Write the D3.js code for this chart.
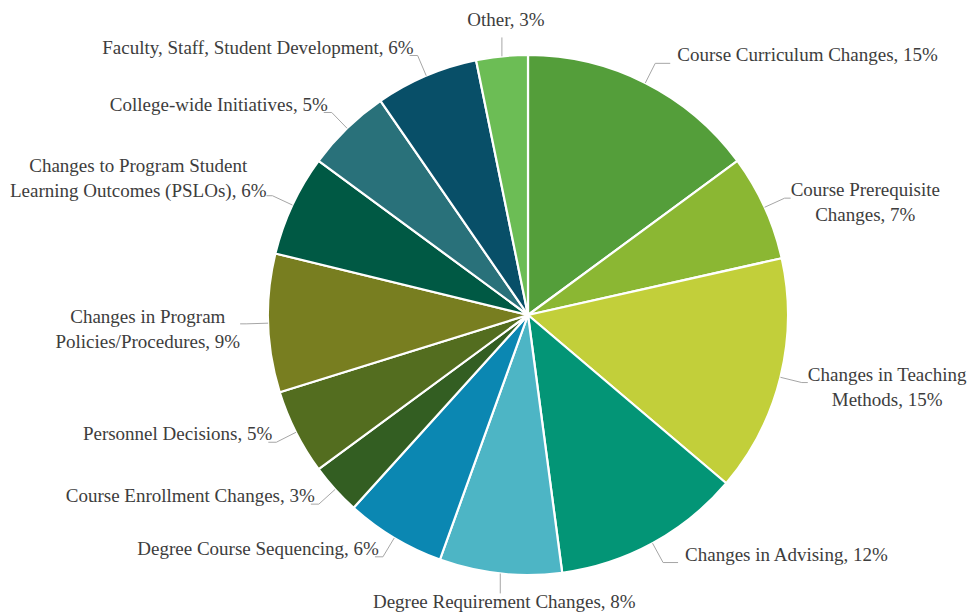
<!DOCTYPE html>
<html>
<head>
<meta charset="utf-8">
<script src="https://cdn.jsdelivr.net/npm/d3@7"></script>
<style>
  body { margin: 0; background: #fff; }
  text { font-family: "Liberation Serif", "DejaVu Serif", serif; }
</style>
</head>
<body>
<div id="chart"></div>
<script>
// categories, clockwise from 12 o'clock ("\n" marks the label line break)
const categories = [
    "Course Curriculum Changes",
    "Course Prerequisite\nChanges",
    "Changes in Teaching\nMethods",
    "Changes in Advising",
    "Degree Requirement Changes",
    "Degree Course Sequencing",
    "Course Enrollment Changes",
    "Personnel Decisions",
    "Changes in Program\nPolicies/Procedures",
    "Changes to Program Student\nLearning Outcomes (PSLOs)",
    "College-wide Initiatives",
    "Faculty, Staff, Student Development",
    "Other"
];
// share of responses, percent
const values = [14.9, 6.6, 14.7, 11.7, 7.6, 6.2, 3.2, 5.3, 8.6, 6.3, 5.3, 6.4, 3.2];
const colors = [
    "#549e3a", "#8bb733", "#c2cf3a", "#039576", "#4db5c5", "#0b87b2", "#335e22",
    "#536d1f", "#787e20", "#005944", "#29717a", "#084f68", "#6cbd55"
];

const width = 974, height = 614;
const cx = 528, cy = 315, radius = 260;
const lineHeight = 25;

const svg = d3.select("#chart")
    .append("svg")
    .attr("width", width)
    .attr("height", height);

const g = svg.append("g")
    .attr("transform", "translate(" + cx + "," + cy + ")");

const data = categories.map((c, i) => ({ name: c, value: values[i], color: colors[i] }));

const pie = d3.pie()
    .sort(null)
    .value(d => d.value);

const arc = d3.arc()
    .innerRadius(0)
    .outerRadius(radius);

const arcs = pie(data);

g.selectAll("path.slice")
    .data(arcs)
    .enter().append("path")
    .attr("class", "slice")
    .attr("d", arc)
    .attr("fill", d => d.data.color)
    .attr("stroke", "#fff")
    .attr("stroke-width", 2.2)
    .attr("stroke-linejoin", "round");

// labels with leader lines, placed outside the pie
const labels = g.append("g");

arcs.forEach(d => {
    const a = (d.startAngle + d.endAngle) / 2;
    const s = Math.sin(a), c = -Math.cos(a);
    const ex = radius * s, ey = radius * c;
    const px = (radius + 22) * s, py = (radius + 22) * c;
    const lines = (d.data.name + ", " + Math.round(d.data.value) + "%").split("\n");

    const text = labels.append("text")
        .attr("fill", "#3d3d3d")
        .attr("font-size", "19px");
    lines.forEach((l, i) => text.append("tspan").text(l));

    const widths = [];
    text.selectAll("tspan").each(function() { widths.push(this.getComputedTextLength()); });
    const w = d3.max(widths);

    let path;
    if (Math.abs(s) < 0.15) {
        // top / bottom: centred label, vertical leader
        const tx = ex + 4;
        const base = c < 0 ? py - 8 : py + 13;
        text.attr("text-anchor", "middle");
        text.selectAll("tspan").attr("x", tx).attr("y", (l, i) => base + i * lineHeight);
        path = [[ex, ey], [ex, c < 0 ? py + 3 : py - 2]];
    } else if (lines.length === 1) {
        const right = s > 0;
        const base = py - 2;
        text.attr("text-anchor", right ? "start" : "end");
        text.selectAll("tspan")
            .attr("x", right ? px + 22 : px - 4)
            .attr("y", base);
        path = [[ex, ey], [px, py], [right ? px + 15 : px - 8, py]];
    } else {
        const right = s > 0;
        const bx = right ? px + 6 + w / 2 : px - 6 - w / 2;
        let first;
        if (right) first = py - 2;
        else first = c < 0 ? py + 1 - (lines.length - 1) * lineHeight : py - 1;
        text.attr("text-anchor", "middle");
        text.selectAll("tspan")
            .attr("x", bx)
            .attr("y", (l, i) => first + i * lineHeight);
        path = [[ex, ey], [px, py], [right ? px + 6 : px - 6, py]];
    }

    labels.append("path")
        .attr("d", d3.line()(path))
        .attr("fill", "none")
        .attr("stroke", "#a6a6a6")
        .attr("stroke-width", 1);
});
</script>
</body>
</html>
